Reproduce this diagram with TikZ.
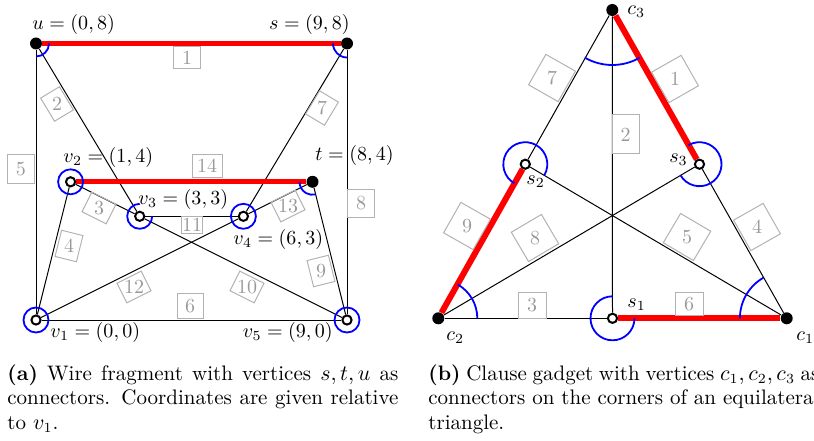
\documentclass[tikz,border=0pt]{standalone}
\pgfdeclarelayer{bg}
\pgfdeclarelayer{mid}
\pgfsetlayers{bg,mid,main}
\newcommand{\elab}[5]{%
  \node[lblbox,#5,rotate=#3] (#1box) at (#2) {};
  \node[lbltext] (#1) at (#2) {#4};}
\begin{document}
\begin{tikzpicture}[
  vtx/.style={circle, draw=black, fill=white, line width=1pt, inner sep=0pt, minimum size=4.6pt},
  conn/.style={circle, fill=black, inner sep=0pt, minimum size=6pt},
  edge/.style={line width=0.5pt, black},
  hl/.style={line width=2.6pt, red},
  hlr/.style={line width=3pt, red},
  ang/.style={blue, line width=0.9pt},
  lblbox/.style={draw=black!30, line width=0.5pt, minimum width=13.5pt, minimum height=11pt, inner sep=0pt},
  big/.style={minimum width=17.5pt, minimum height=17pt},
  lbltext/.style={text=black!40, inner sep=0pt, font=\fontsize{10}{12}\selectfont},
  vl/.style={inner sep=0pt, font=\fontsize{10}{12}\selectfont},
  captxt/.style={inner sep=0pt, text width=195.5pt, align=justify, font=\fontsize{10.5}{12.25}\selectfont},
]
\useasboundingbox (0,0) rectangle (407pt,220pt);
\begin{scope}[x=0.5pt,y=-0.5pt,yshift=220pt]
  % left: wire fragment
  \node[conn] (u)  at (36,43.5) {};
  \node[conn] (s)  at (347,43.5) {};
  \node[conn] (t)  at (312.5,181.8) {};
  \node[vtx]  (v1) at (36,320) {};
  \node[vtx]  (v2) at (70.6,181.8) {};
  \node[vtx]  (v3) at (139.7,216.3) {};
  \node[vtx]  (v4) at (243.4,216.3) {};
  \node[vtx]  (v5) at (347,320) {};
  % right: clause gadget
  \node[conn] (c1) at (786.7,318.3) {};
  \node[conn] (c2) at (438.3,318.3) {};
  \node[conn] (c3) at (612.3,10) {};
  \node[vtx]  (s1) at (612.5,318.3) {};
  \node[vtx]  (s2) at (525.3,164.2) {};
  \node[vtx]  (s3) at (699.5,164.2) {};
  % vertex labels
  \node[vl, anchor=base west] (lu)  at (32,30)  {$u=(0,8)$};
  \node[vl, anchor=base east] (ls)  at (350,30) {$s=(9,8)$};
  \node[vl, anchor=base west] (lv2) at (63,162) {$v_2=(1,4)$};
  \node[vl, anchor=base west] (lt)  at (315,161) {$t=(8,4)$};
  \node[vl, anchor=base west] (lv3) at (138,205) {$v_3=(3,3)$};
  \node[vl, anchor=base west] (lv4) at (233,244) {$v_4=(6,3)$};
  \node[vl, anchor=base west] (lv1) at (50,337) {$v_1=(0,0)$};
  \node[vl, anchor=base east] (lv5) at (333,337) {$v_5=(9,0)$};
  \node[vl, anchor=base west] (lc3) at (627,15)  {$c_3$};
  \node[vl, anchor=base east] (ls3) at (688,162) {$s_3$};
  \node[vl, anchor=base west] (ls2) at (526,184) {$s_2$};
  \node[vl, anchor=base west] (ls1) at (627,307) {$s_1$};
  \node[vl, anchor=base west] (lc2) at (446,340) {$c_2$};
  \node[vl, anchor=base west] (lc1) at (796,340) {$c_1$};
  % edge number boxes, left
  \elab{a1}{187,58}{0}{1}{}
  \elab{a2}{57,104}{-59}{2}{}
  \elab{a3}{99,208}{-26.6}{3}{}
  \elab{a4}{69,246}{76}{4}{}
  \elab{a5}{21,169}{90}{5}{minimum width=14pt, minimum height=13.5pt}
  \elab{a6}{190,306}{0}{6}{minimum width=13pt, minimum height=12.5pt}
  \elab{a7}{322,108}{59}{7}{}
  \elab{a8}{361,203}{90}{8}{minimum width=14pt, minimum height=13.5pt}
  \elab{a9}{321,271}{104}{9}{}
  \elab{a10}{247,287}{-26.6}{10}{}
  \elab{a11}{192,225}{0}{11}{minimum width=10.5pt, minimum height=8.5pt}
  \elab{a12}{134,287}{26.6}{12}{}
  \elab{a13}{288,206}{26.6}{13}{}
  \elab{a14}{207,166}{0}{14}{minimum width=15pt}
  % edge number boxes, right
  \elab{b1}{675,79}{-60.4}{1}{big}
  \elab{b2}{625.5,134.5}{90}{2}{minimum width=19.5pt, minimum height=13.5pt}
  \elab{b3}{532,305}{0}{3}{minimum width=14pt, minimum height=13pt}
  \elab{b4}{757,227}{-60.4}{4}{big}
  \elab{b5}{687,237}{-30.5}{5}{big}
  \elab{b6}{689,304}{0}{6}{minimum width=14pt, minimum height=11.5pt}
  \elab{b7}{552,78}{60.4}{7}{big}
  \elab{b8}{535,238}{30.5}{8}{big}
  \elab{b9}{467,226}{60.4}{9}{big}
  % captions
  \node[captxt, anchor=base west] (capa) at (7,380)
    {\textbf{(a)} Wire fragment with vertices $s,t,u$ as\linebreak
     connectors. Coordinates are given relative\linebreak to $v_1$.};
  \node[captxt, anchor=base west] (capb) at (428,380)
    {\textbf{(b)} Clause gadget with vertices $c_1,c_2,c_3$ as\linebreak
     connectors on the corners of an equilateral\linebreak triangle.};
\end{scope}
\begin{pgfonlayer}{bg}
  \draw[edge] (u) -- (v3);
  \draw[edge] (v2) -- (v3);
  \draw[edge] (v1) -- (v2);
  \draw[edge] (v1) -- (u);
  \draw[edge] (v1) -- (v5);
  \draw[edge] (s) -- (v4);
  \draw[edge] (s) -- (v5);
  \draw[edge] (t) -- (v5);
  \draw[edge] (v3) -- (v5);
  \draw[edge] (v3) -- (v4);
  \draw[edge] (v1) -- (v4);
  \draw[edge] (t) -- (v4);
  \draw[hl] (u) -- (s);
  \draw[hl] (v2) -- (t);
  \draw[edge] (c3) -- (s1);
  \draw[edge] (c2) -- (s1);
  \draw[edge] (c1) -- (s3);
  \draw[edge] (c1) -- (s2);
  \draw[edge] (c3) -- (s2);
  \draw[edge] (c2) -- (s3);
  \draw[hlr] (c3) -- (s3);
  \draw[hlr] (s1) -- (c1);
  \draw[hlr] (c2) -- (s2);
\end{pgfonlayer}
\begin{pgfonlayer}{mid}
\draw[ang] ([shift={(-90:6.5pt)}]u.center) arc[start angle=-90, end angle=0, radius=6.5pt];
\draw[ang] ([shift={(180:7pt)}]s.center) arc[start angle=180, end angle=270, radius=7pt];
\draw[ang] ([shift={(180:6.5pt)}]t.center) arc[start angle=180, end angle=284, radius=6.5pt];
\draw[ang] (v1.center) circle[radius=6.25pt];
\draw[ang] (v2.center) circle[radius=6.25pt];
\draw[ang] ([shift={(90:6.25pt)}]v3.center) arc[start angle=90, end angle=360, radius=6.25pt];
\draw[ang] (v4.center) circle[radius=6.25pt];
\draw[ang] (v5.center) circle[radius=6.25pt];
\draw[ang] ([shift={(240:27.5pt)}]c3.center) arc[start angle=240, end angle=300, radius=27.5pt];
\draw[ang] ([shift={(0:19.5pt)}]c2.center) arc[start angle=0, end angle=60, radius=19.5pt];
\draw[ang] ([shift={(120:23.4pt)}]c1.center) arc[start angle=120, end angle=180, radius=23.4pt];
\draw[ang] ([shift={(90:11pt)}]s1.center) arc[start angle=90, end angle=360, radius=11pt];
\draw[ang] ([shift={(-30:11pt)}]s2.center) arc[start angle=-30, end angle=240, radius=11pt];
\draw[ang] ([shift={(210:11pt)}]s3.center) arc[start angle=210, end angle=480, radius=11pt];
\end{pgfonlayer}
\end{tikzpicture}
\end{document}
